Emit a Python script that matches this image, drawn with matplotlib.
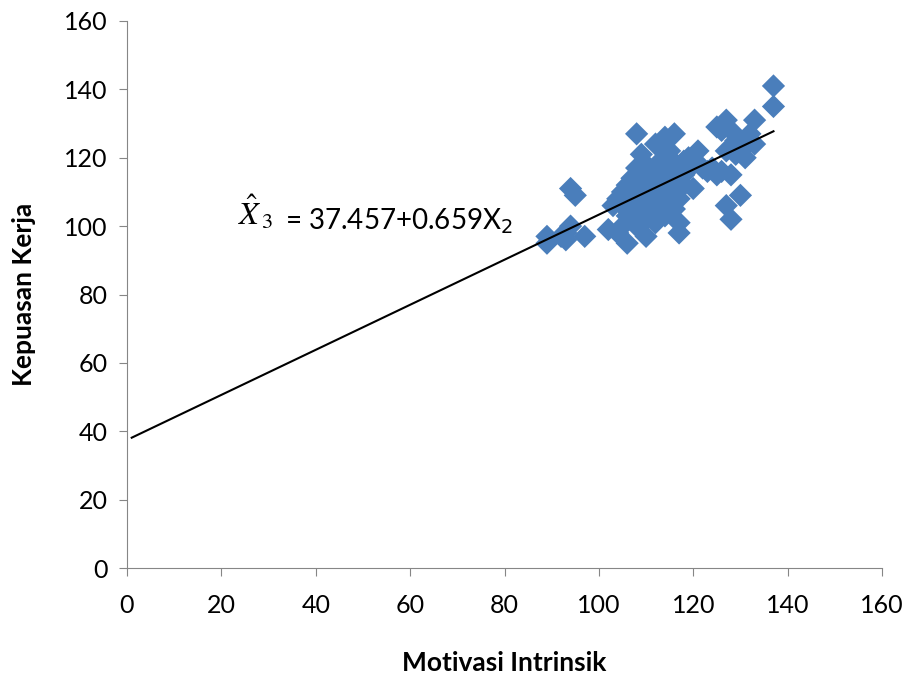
import matplotlib
matplotlib.use("Agg")
import matplotlib.pyplot as plt
import numpy as np

plt.rcParams['font.family'] = ['Lato', 'DejaVu Sans']

motivasi = [89, 89, 92, 93, 93, 94, 94, 95, 97,
            102, 103, 104, 104, 105, 105, 106, 106, 107, 107, 107,
            108, 108, 108, 108, 109, 109, 109, 110, 110, 110, 110,
            111, 111, 111, 112, 112, 112, 112, 113, 113, 113,
            114, 114, 114, 114, 115, 115, 115, 116, 116, 116, 116,
            117, 117, 117, 117, 118, 118, 119, 119, 120, 120, 121,
            122, 123, 124, 125, 125, 126, 126, 127, 127, 127,
            128, 128, 128, 129, 129, 130, 130, 131, 132, 133, 133,
            137, 137, 106, 108, 105, 111, 113, 115, 118]
kepuasan = [97, 95, 97, 96, 98, 100, 111, 109, 97,
            99, 106, 98, 108, 110, 100, 95, 112, 109, 104, 114,
            127, 117, 107, 100, 121, 111, 105, 97, 102, 113, 118,
            108, 115, 104, 124, 110, 117, 101, 106, 113, 119,
            126, 103, 111, 116, 108, 120, 113, 127, 105, 118, 111,
            98, 101, 115, 108, 119, 112, 117, 120, 111, 118, 122,
            117, 116, 117, 129, 115, 128, 116, 131, 106, 122,
            128, 102, 115, 125, 121, 109, 122, 120, 127, 131, 124,
            141, 135, 103, 113, 106, 110, 116, 122, 115]

intercept = 37.457
slope = 0.659
line_x = [1, 137]

fig = plt.figure(figsize=(9.1, 6.76), dpi=100)
ax = fig.add_axes([127/910, 1-568/676, (882-127)/910, (568-21)/676])

ax.scatter(motivasi, kepuasan, marker='D', s=140, color='#4a7ebb', edgecolors='none', zorder=2)
lx = np.array(line_x)
ax.plot(lx, intercept + slope*lx, color='black', lw=1.5, zorder=3)

ax.set_xlim(0, 160)
ax.set_ylim(0, 160)
ax.set_xticks(range(0, 161, 20))
ax.set_yticks(range(0, 161, 20))
for s in ['top', 'right']:
    ax.spines[s].set_visible(False)
for s in ['left', 'bottom']:
    ax.spines[s].set_color('#868686')
ax.tick_params(axis='both', colors='#868686', length=6, labelsize=18, labelcolor='black', pad=8)
ax.tick_params(axis='x', pad=13)

ax.set_xlabel('Motivasi Intrinsik', fontsize=19, fontweight='bold', labelpad=24)
ax.set_ylabel('Kepuasan Kerja', fontsize=19, fontweight='bold', labelpad=20)

ax.text(23.5, 98.5, r'$\hat{X}_{\,3}$', fontsize=23, ha='left', va='bottom',
        math_fontfamily='stix')
ax.text(33.5, 97, r'= 37.457+0.659X$_2$', fontsize=20, ha='left', va='bottom',
        math_fontfamily='dejavusans')

fig.savefig('out.png', dpi=100)
